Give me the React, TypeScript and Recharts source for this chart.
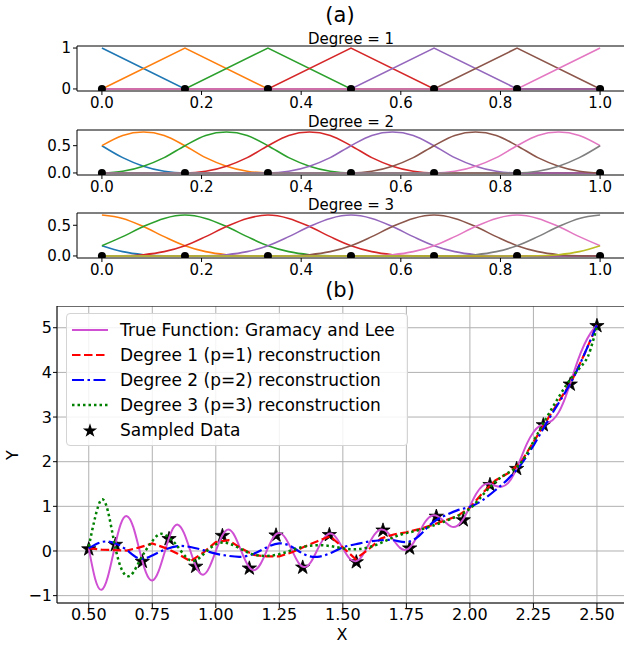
import type { CSSProperties } from "react";
import {
	CartesianGrid,
	ComposedChart,
	Line,
	ReferenceLine,
	Scatter,
	XAxis,
	YAxis,
} from "recharts";

const FONT = "DejaVu Sans, Verdana, sans-serif";
const TAB10 = ["#1f77b4", "#ff7f0e", "#2ca02c", "#d62728", "#9467bd", "#8c564b", "#e377c2", "#7f7f7f", "#bcbd22"];

// ---- panel (a): B-spline bases on [0, 1] ----
const knotX = [0, 0.1667, 0.3333, 0.5, 0.6667, 0.8333, 1];
const knotY = [0, 0, 0, 0, 0, 0, 0];
const basisTicksX = [0, 0.2, 0.4, 0.6, 0.8, 1.0];

const linearBasis = [
	[1, 0, 0, 0, 0, 0, 0],
	[0, 1, 0, 0, 0, 0, 0],
	[0, 0, 1, 0, 0, 0, 0],
	[0, 0, 0, 1, 0, 0, 0],
	[0, 0, 0, 0, 1, 0, 0],
	[0, 0, 0, 0, 0, 1, 0],
	[0, 0, 0, 0, 0, 0, 1],
];

const basisGridX = [
	0, 0.0417, 0.0833, 0.125, 0.1667, 0.2083, 0.25, 0.2917, 0.3333, 0.375, 0.4167, 0.4583, 0.5,
	0.5417, 0.5833, 0.625, 0.6667, 0.7083, 0.75, 0.7917, 0.8333, 0.875, 0.9167, 0.9583, 1,
];
// one bump sampled every quarter of a knot interval
const quadProfile = [0, 0.0313, 0.125, 0.2813, 0.5, 0.6875, 0.75, 0.6875, 0.5, 0.2813, 0.125, 0.0313, 0];
const quadOffsets = [-2, -1, 0, 1, 2, 3, 4, 5];
const cubicProfile = [
	0, 0.0026, 0.0208, 0.0703, 0.1667, 0.3151, 0.4792, 0.612, 0.6667, 0.612, 0.4792, 0.3151, 0.1667,
	0.0703, 0.0208, 0.0026, 0,
];
const cubicOffsets = [-3, -2, -1, 0, 1, 2, 3, 4, 5];

// ---- panel (b): Gramacy and Lee reconstruction ----
const trueX = [
	0.5, 0.525, 0.55, 0.575, 0.6, 0.625, 0.65, 0.675, 0.7, 0.725, 0.75, 0.775, 0.8, 0.825, 0.85, 0.875,
	0.9, 0.925, 0.95, 0.975, 1.0, 1.025, 1.05, 1.075, 1.1, 1.125, 1.15, 1.175, 1.2, 1.225, 1.25, 1.275,
	1.3, 1.325, 1.35, 1.375, 1.4, 1.425, 1.45, 1.475, 1.5, 1.525, 1.55, 1.575, 1.6, 1.625, 1.65, 1.675,
	1.7, 1.725, 1.75, 1.775, 1.8, 1.825, 1.85, 1.875, 1.9, 1.925, 1.95, 1.975, 2.0, 2.025, 2.05, 2.075,
	2.1, 2.125, 2.15, 2.175, 2.2, 2.225, 2.25, 2.275, 2.3, 2.325, 2.35, 2.375, 2.4, 2.425, 2.45, 2.475,
	2.5,
];
const trueY = [
	0.06, -0.62, -0.87, -0.58, 0.03, 0.59, 0.78, 0.54, 0.01, -0.48, -0.66, -0.45, 0.0, 0.43, 0.59, 0.4,
	0.0, -0.38, -0.53, -0.36, 0.0, 0.34, 0.48, 0.33, 0.0, -0.31, -0.43, -0.3, 0.0, 0.29, 0.4, 0.28,
	0.01, -0.26, -0.36, -0.24, 0.03, 0.28, 0.39, 0.29, 0.06, -0.16, -0.23, -0.12, 0.13, 0.37, 0.48, 0.42,
	0.24, 0.07, 0.03, 0.16, 0.41, 0.66, 0.79, 0.77, 0.66, 0.55, 0.56, 0.72, 1.0, 1.28, 1.46, 1.51,
	1.46, 1.44, 1.52, 1.74, 2.07, 2.41, 2.66, 2.8, 2.86, 2.93, 3.11, 3.43, 3.84, 4.27, 4.62, 4.88,
	5.06,
];

const sampleX = [
	0.5, 0.605, 0.711, 0.816, 0.921, 1.026, 1.132, 1.237, 1.342, 1.447, 1.553, 1.658, 1.763, 1.868,
	1.974, 2.079, 2.184, 2.289, 2.395, 2.5,
];
const sampleY = [
	0.06, 0.16, -0.22, 0.29, -0.33, 0.36, -0.37, 0.37, -0.35, 0.38, -0.23, 0.48, 0.08, 0.79, 0.71, 1.5,
	1.86, 2.84, 3.75, 5.06,
];

const recX = [
	0.5, 0.55, 0.6, 0.65, 0.7, 0.75, 0.8, 0.85, 0.9, 0.95, 1.0, 1.05, 1.1, 1.15, 1.2, 1.25, 1.3, 1.35,
	1.4, 1.45, 1.5, 1.55, 1.6, 1.65, 1.7, 1.75, 1.8, 1.85, 1.9, 1.95, 2.0, 2.05, 2.1, 2.15, 2.2, 2.25,
	2.3, 2.35, 2.4, 2.45, 2.5,
];
const deg1Y = [
	0.06, 0.03, 0.02, 0.01, 0.08, 0.17, 0.07, -0.06, -0.23, -0.04, 0.2, 0.24, 0.06, -0.09, -0.12, -0.12,
	-0.03, 0.1, 0.22, 0.33, 0.08, -0.18, 0.03, 0.28, 0.37, 0.42, 0.49, 0.58, 0.68, 0.78, 0.97, 1.3,
	1.58, 1.74, 1.98, 2.44, 2.9, 3.35, 3.8, 4.4, 5.06,
];
const deg2Y = [
	0.06, 0.2, 0.18, 0.02, -0.17, -0.1, 0.03, 0.11, 0.09, 0.02, -0.06, -0.11, -0.13, -0.06, 0.08, 0.17,
	0.09, -0.08, -0.13, -0.05, 0.08, 0.15, 0.21, 0.24, 0.24, 0.2, 0.34, 0.62, 0.79, 0.91, 0.99, 1.14,
	1.36, 1.61, 1.93, 2.36, 2.85, 3.32, 3.8, 4.4, 5.06,
];
const deg3X = [
	0.5, 0.525, 0.55, 0.575, 0.6, 0.625, 0.65, 0.675, 0.7, 0.725, 0.75, 0.775, 0.8, 0.825, 0.85, 0.9,
	0.95, 1.0, 1.05, 1.1, 1.15, 1.2, 1.25, 1.3, 1.35, 1.4, 1.45, 1.5, 1.55, 1.6, 1.65, 1.7, 1.75, 1.8,
	1.85, 1.9, 1.95, 2.0, 2.05, 2.1, 2.15, 2.2, 2.25, 2.3, 2.35, 2.4, 2.45, 2.475, 2.5,
];
const deg3Y = [
	0.1, 0.75, 1.15, 0.9, 0.2, -0.35, -0.56, -0.48, -0.22, 0.02, 0.22, 0.37, 0.36, 0.25, 0.1, -0.21,
	-0.08, 0.15, 0.17, 0.04, -0.08, -0.11, -0.07, 0.02, 0.1, 0.13, 0.11, 0.06, 0.04, 0.08, 0.18, 0.31,
	0.4, 0.47, 0.56, 0.66, 0.78, 0.95, 1.25, 1.55, 1.75, 1.97, 2.45, 2.97, 3.45, 3.88, 4.22, 4.52,
	5.02,
];

const mainTicksX = [0.5, 0.75, 1.0, 1.25, 1.5, 1.75, 2.0, 2.25, 2.5];
const mainTicksY = [-1, 0, 1, 2, 3, 4, 5];

const legendLabels = [
	"True Function: Gramacy and Lee",
	"Degree 1 (p=1) reconstruction",
	"Degree 2 (p=2) reconstruction",
	"Degree 3 (p=3) reconstruction",
	"Sampled Data",
];

const TRUE_COLOR = "#d050d4";
const lineStyles = [
	{ color: TRUE_COLOR, dash: undefined, width: 2 },
	{ color: "#ff0000", dash: "8.5 3.5", width: 2.2 },
	{ color: "#0000ff", dash: "12 3.5 2.5 3.5", width: 2.2 },
	{ color: "#008000", dash: "2.5 3", width: 2.5 },
];

type Row = { [key: string]: number };

function toPoints(xs: number[], ys: number[]) {
	return xs.map((x, i) => ({ x, y: ys[i] }));
}

function rowsFromSeries(xs: number[], series: number[][]): Row[] {
	return xs.map((x, j) => {
		const row: Row = { x };
		series.forEach((s, i) => {
			row["b" + i] = s[j];
		});
		return row;
	});
}

function shiftedBumps(profile: number[], offsets: number[]) {
	return offsets.map((off) =>
		basisGridX.map((_, j) => {
			const idx = j - 4 * off;
			return idx >= 0 && idx < profile.length ? profile[idx] : 0;
		}),
	);
}

const knotPoints = toPoints(knotX, knotY);

const KnotDot = (props: any) => <circle cx={props.cx} cy={props.cy} r={4} fill="#000" />;

function starPath(cx: number, cy: number, R: number) {
	const r = R * 0.382;
	let d = "";
	for (let k = 0; k < 10; k++) {
		const rad = k % 2 === 0 ? R : r;
		const a = -Math.PI / 2 + (k * Math.PI) / 5;
		d += (k === 0 ? "M" : "L") + (cx + rad * Math.cos(a)).toFixed(2) + "," + (cy + rad * Math.sin(a)).toFixed(2);
	}
	return d + "Z";
}

const StarDot = (props: any) => <path d={starPath(props.cx, props.cy + 0.8, 7.5)} fill="#000" stroke="#000" strokeWidth={0.8} />;

const tickStyle = (size: number) => ({ fontSize: size, fill: "#000", fontFamily: FONT });

type PanelProps = {
	top: number;
	rows: Row[];
	count: number;
	yDomain: [number, number];
	yTicks: number[];
	yFormat: (v: number) => string;
	curve: "linear" | "monotone";
};

// panels get 10px of headroom so the top tick label is not clipped
function BasisPanel({ top, rows, count, yDomain, yTicks, yFormat, curve }: PanelProps) {
	return (
		<div style={{ position: "absolute", left: 0, top: top - 10 }}>
			<ComposedChart width={640} height={85} data={rows} margin={{ top: 10, right: 15, bottom: 0, left: 0 }}>
				<XAxis
					dataKey="x"
					type="number"
					domain={[-0.05, 1.05]}
					allowDataOverflow
					ticks={basisTicksX}
					interval={0}
					tickFormatter={(v: number) => v.toFixed(1)}
					height={30}
					tickSize={4}
					tickMargin={2}
					stroke="#000"
					tick={tickStyle(15)}
				/>
				<YAxis
					type="number"
					domain={yDomain}
					allowDataOverflow
					ticks={yTicks}
					interval={0}
					tickFormatter={yFormat}
					width={77}
					tickSize={4}
					tickMargin={2}
					stroke="#000"
					tick={tickStyle(15)}
				/>
				<ReferenceLine y={yDomain[1]} stroke="#000" />
				{Array.from({ length: count }, (_, i) => (
					<Line
						key={i}
						dataKey={"b" + i}
						type={curve}
						stroke={TAB10[i]}
						strokeWidth={1.6}
						dot={false}
						isAnimationActive={false}
					/>
				))}
				<Scatter data={knotPoints} dataKey="y" shape={KnotDot} isAnimationActive={false} />
			</ComposedChart>
		</div>
	);
}

const centered = (left: number, top: number, size: number): CSSProperties => ({
	position: "absolute",
	left,
	top,
	transform: "translate(-50%, -50%)",
	fontSize: size,
	fontFamily: FONT,
	whiteSpace: "nowrap",
	lineHeight: 1,
});

function LegendBox() {
	return (
		<div
			style={{
				position: "absolute",
				left: 66,
				top: 313,
				width: 340,
				height: 131,
				border: "1px solid #d4d4d4",
				borderRadius: 4,
				background: "rgba(255,255,255,0.85)",
				fontFamily: FONT,
				fontSize: 17,
			}}
		>
			{legendLabels.map((label, i) => {
				const st = lineStyles[i];
				return (
					<div key={label} style={{ position: "absolute", left: 0, top: 16 + 25 * i - 10, height: 20, width: 340 }}>
						<svg width={40} height={20} style={{ position: "absolute", left: 5, top: 0 }}>
							{st ? (
								<line x1={0} y1={10} x2={36} y2={10} stroke={st.color} strokeWidth={st.width} strokeDasharray={st.dash} />
							) : (
								<path d={starPath(18, 10.8, 7.5)} fill="#000" />
							)}
						</svg>
						<span style={{ position: "absolute", left: 53, top: 0, lineHeight: "20px" }}>{label}</span>
					</div>
				);
			})}
		</div>
	);
}

export default function App() {
	const linearRows = rowsFromSeries(knotX, linearBasis);
	const quadRows = rowsFromSeries(basisGridX, shiftedBumps(quadProfile, quadOffsets));
	const cubicRows = rowsFromSeries(basisGridX, shiftedBumps(cubicProfile, cubicOffsets));
	const recSeries = [toPoints(trueX, trueY), toPoints(recX, deg1Y), toPoints(recX, deg2Y), toPoints(deg3X, deg3Y)];
	const curves: ("natural" | "linear")[] = ["natural", "linear", "natural", "natural"];

	return (
		<div style={{ position: "absolute", left: 0, top: 0, width: 624, height: 648, overflow: "hidden", background: "#fff" }}>
			<div style={centered(340, 15, 21)}>(a)</div>
			<div style={centered(351, 39, 15)}>Degree = 1</div>
			<div style={centered(351, 122, 15)}>Degree = 2</div>
			<div style={centered(351, 205, 15)}>Degree = 3</div>

			<BasisPanel top={46} rows={linearRows} count={7} yDomain={[-0.05, 1.05]} yTicks={[0, 1]} yFormat={(v) => String(v)} curve="linear" />
			<BasisPanel top={130} rows={quadRows} count={8} yDomain={[-0.0375, 0.7875]} yTicks={[0, 0.5]} yFormat={(v) => v.toFixed(1)} curve="monotone" />
			<BasisPanel top={213} rows={cubicRows} count={9} yDomain={[-0.0333, 0.7]} yTicks={[0, 0.5]} yFormat={(v) => v.toFixed(1)} curve="monotone" />

			<div style={centered(340, 290, 21)}>(b)</div>

			<div style={{ position: "absolute", left: 0, top: 306 }}>
				<ComposedChart width={650} height={337} margin={{ top: 0, right: 21.3, bottom: 0, left: 0 }}>
					<CartesianGrid stroke="#b0b0b0" strokeWidth={1} />
					<XAxis
						dataKey="x"
						type="number"
						domain={[0.375, 2.625]}
						allowDataOverflow
						ticks={mainTicksX}
						interval={0}
						tickFormatter={(v: number) => v.toFixed(2)}
						height={40}
						tickSize={5}
						tickMargin={1}
						stroke="#000"
						tick={tickStyle(16)}
					/>
					<YAxis
						type="number"
						domain={[-1.165, 5.487]}
						allowDataOverflow
						ticks={mainTicksY}
						interval={0}
						tickFormatter={(v: number) => (v < 0 ? "\u2212" + Math.abs(v) : String(v))}
						width={57}
						tickSize={4}
						tickMargin={1}
						stroke="#000"
						tick={tickStyle(16)}
					/>
					<ReferenceLine y={5.487} stroke="#000" />
					<Scatter
						data={toPoints(sampleX, sampleY)}
						dataKey="y"
						shape={StarDot}
						zIndex={350}
						isAnimationActive={false}
					/>
					{recSeries.map((pts, i) => (
						<Line
							key={i}
							data={pts}
							dataKey="y"
							type={curves[i]}
							stroke={lineStyles[i].color}
							strokeWidth={lineStyles[i].width}
							strokeDasharray={lineStyles[i].dash}
							dot={false}
							isAnimationActive={false}
						/>
					))}
				</ComposedChart>
			</div>

			<LegendBox />
			<div style={{ ...centered(13, 455, 16), transform: "translate(-50%, -50%) rotate(-90deg)" }}>Y</div>
			<div style={centered(342, 635, 16)}>X</div>
		</div>
	);
}
